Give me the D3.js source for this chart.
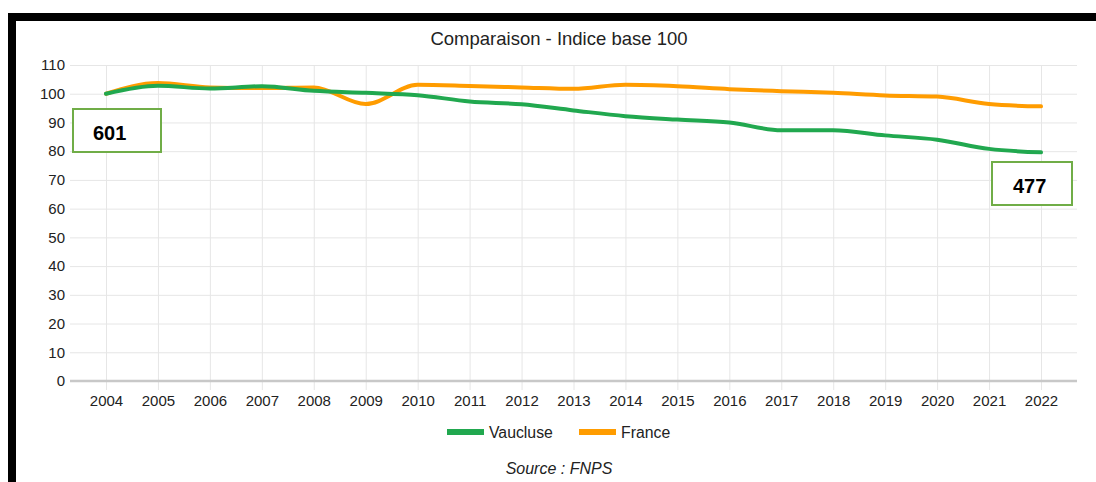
<!DOCTYPE html>
<html>
<head>
<meta charset="utf-8">
<script src="https://cdn.jsdelivr.net/npm/d3@7"></script>
<style>
  body { margin: 0; background: #fff; }
  svg { display: block; font-family: "Liberation Sans", Arial, Helvetica, sans-serif; }
  .tick text { fill: #222; font-size: 15px; }
</style>
</head>
<body>
<svg id="chart" width="1096" height="482"></svg>
<script>
// data
const years = [2004, 2005, 2006, 2007, 2008, 2009, 2010, 2011, 2012, 2013,
  2014, 2015, 2016, 2017, 2018, 2019, 2020, 2021, 2022];
const vaucluse = [100, 102.8, 101.8, 102.6, 101.0, 100.3, 99.5, 97.3, 96.3, 94.2,
  92.2, 91.0, 90.0, 87.3, 87.3, 85.5, 84.0, 80.8, 79.6];
const france = [100, 103.7, 102.2, 102.0, 102.2, 96.4, 103.1, 102.7, 102.2, 101.7,
  103.1, 102.6, 101.6, 100.9, 100.3, 99.4, 99.0, 96.4, 95.6];
const yTicks = [0, 10, 20, 30, 40, 50, 60, 70, 80, 90, 100, 110];
const seriesNames = ['Vaucluse', 'France'];
const seriesColors = ['#21a84f', '#ff9c00'];
const startLabel = '601';
const endLabel = '477';

const svg = d3.select('#chart');

// chart frame (black border, top and left visible)
svg.append('rect')
  .attr('x', 12).attr('y', 17)
  .attr('width', 1200).attr('height', 600)
  .attr('fill', 'none')
  .attr('stroke', '#000')
  .attr('stroke-width', 8);

const gridLeft = 70, gridRight = 1077;

const xScale = d3.scaleLinear().domain([2004, 2022]).range([106, 1041]);
const yScale = d3.scaleLinear().domain([0, 110]).range([381, 65]);

// title
svg.append('text')
  .attr('x', 559).attr('y', 45)
  .style('text-anchor', 'middle')
  .style('font-size', '18.5px')
  .style('fill', '#222')
  .text('Comparaison - Indice base 100');

// y axis + horizontal grid
const yAxis = svg.append('g')
  .attr('transform', `translate(${gridLeft},0)`)
  .call(d3.axisLeft(yScale).tickValues(yTicks).tickSize(-(gridRight - gridLeft)).tickPadding(5));
yAxis.select('.domain').remove();
yAxis.selectAll('.tick line').attr('stroke', '#e6e6e6');

// x axis + vertical grid (lines run a bit below the baseline)
const xAxis = svg.append('g')
  .attr('transform', `translate(0,${yScale(110)})`)
  .call(d3.axisBottom(xScale).tickValues(years).tickFormat(d3.format('d'))
    .tickSize(yScale(0) - yScale(110) + 9).tickPadding(5));
xAxis.select('.domain').remove();
xAxis.selectAll('.tick line').attr('stroke', '#e6e6e6');

// zero line
svg.append('line')
  .attr('x1', gridLeft).attr('x2', gridRight)
  .attr('y1', yScale(0)).attr('y2', yScale(0))
  .attr('stroke', '#c8c8c8')
  .attr('stroke-width', 2.5);

// lines
const line = d3.line()
  .x((d, i) => xScale(years[i]))
  .y(d => yScale(d))
  .curve(d3.curveMonotoneX);

[france, vaucluse].forEach((vals, k) => {
  svg.append('path')
    .datum(vals)
    .attr('d', line)
    .attr('fill', 'none')
    .attr('stroke', k === 0 ? seriesColors[1] : seriesColors[0])
    .attr('stroke-width', 4)
    .attr('stroke-linecap', 'round')
    .attr('stroke-linejoin', 'round');
});

// legend
const legendX = [447, 579];
seriesNames.forEach((name, i) => {
  svg.append('rect')
    .attr('x', legendX[i]).attr('y', 429)
    .attr('width', 37).attr('height', 6)
    .attr('fill', seriesColors[i]);
  svg.append('text')
    .attr('x', legendX[i] + 42).attr('y', 438)
    .style('font-size', '15.8px')
    .style('fill', '#222')
    .text(name);
});

// source
svg.append('text')
  .attr('x', 559).attr('y', 474)
  .style('text-anchor', 'middle')
  .style('font-size', '16px')
  .style('font-style', 'italic')
  .style('fill', '#222')
  .text('Source : FNPS');

// annotation boxes
function annot(x, y, w, h, label, tx, ty) {
  svg.append('rect')
    .attr('x', x).attr('y', y)
    .attr('width', w).attr('height', h)
    .attr('fill', '#fff')
    .attr('stroke', '#70ad47')
    .attr('stroke-width', 2);
  svg.append('text')
    .attr('x', tx).attr('y', ty)
    .style('font-size', '20px')
    .style('font-weight', 'bold')
    .style('fill', '#000')
    .text(label);
}
annot(73, 109, 88, 43, startLabel, 93, 140);
annot(992, 162, 80, 43, endLabel, 1013, 193);
</script>
</body>
</html>
